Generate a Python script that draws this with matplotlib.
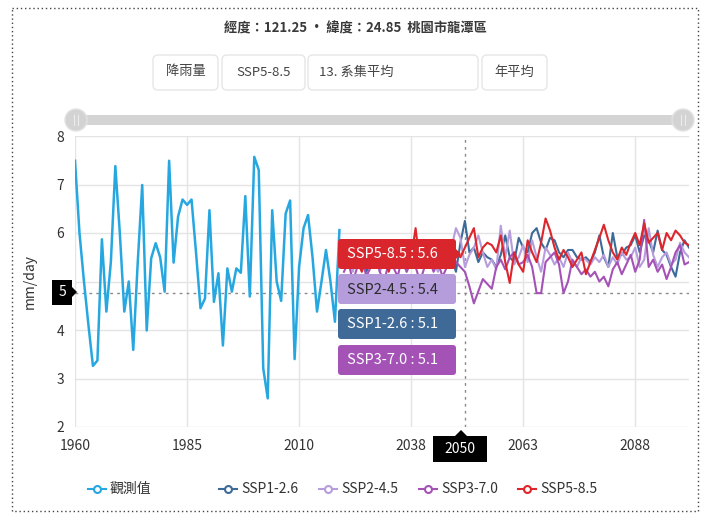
import numpy as np
import matplotlib
matplotlib.use('Agg')
import matplotlib.pyplot as plt
from matplotlib.patches import FancyBboxPatch, Rectangle, Circle, Polygon

plt.rcParams['font.family'] = ['Noto Sans CJK TC', 'DejaVu Sans']

# category axis: observed years, then projection years
obs_years = list(range(1960, 2020))
ssp_years = list(range(2023, 2101))
years = obs_years + ssp_years

obs = [7.49, 6.0, 5.0, 4.1, 3.26, 3.37, 5.87, 4.38, 5.4, 7.38,
       6.0, 4.38, 5.0, 3.59, 5.4, 6.99, 3.99, 5.48, 5.79, 5.5,
       4.79, 7.49, 5.39, 6.34, 6.69, 6.58, 6.69, 5.6, 4.45, 4.65,
       6.47, 4.58, 5.17, 3.68, 5.27, 4.79, 5.27, 5.18, 6.76, 4.69,
       7.57, 7.30, 3.21, 2.59, 6.47, 5.0, 4.6, 6.4, 6.67, 3.4,
       5.3, 6.1, 6.37, 5.5, 4.38, 5.0, 5.65, 5.0, 4.17, 6.06]

ssp126 = [5.4, 5.6, 5.3, 5.5, 5.7, 5.2, 5.4, 5.6, 5.5, 5.3, 5.6, 5.4, 5.5,
          5.7, 5.3, 5.5, 5.4, 5.6, 5.3, 5.5, 5.4, 5.6, 5.5, 5.3, 5.5, 5.2,
          5.8, 6.25, 5.6, 5.7, 5.4, 5.6, 5.5, 5.45, 5.3, 5.55, 5.95, 5.5, 5.4,
          5.9, 5.7, 5.6, 6.0, 6.1, 5.8, 5.65, 5.9, 5.85, 5.6, 5.5, 5.65, 5.65,
          5.5, 5.45, 5.5, 5.4, 5.6, 5.95, 5.5, 5.3, 6.0, 5.5, 5.55, 5.7, 5.75,
          5.95, 5.6, 5.95, 5.85, 5.6, 6.05, 5.65, 5.55, 5.3, 5.1, 5.6, 5.85, 5.7]

ssp245 = [5.3, 5.5, 5.2, 5.6, 5.4, 5.3, 5.5, 5.7, 5.2, 5.4, 5.6, 5.3, 5.5,
          5.4, 5.2, 5.6, 5.4, 5.5, 5.3, 5.6, 5.4, 5.2, 5.5, 5.3, 5.7, 6.1,
          5.9, 5.3, 5.55, 5.7, 5.95, 5.6, 5.3, 5.45, 5.25, 6.15, 5.5, 6.05, 5.35,
          5.5, 5.75, 5.4, 5.85, 5.5, 5.2, 5.7, 5.55, 5.35, 5.5, 5.3, 5.6, 5.4,
          5.3, 5.5, 5.45, 5.35, 5.5, 5.4, 5.55, 5.3, 5.5, 5.35, 5.6, 5.45, 5.5,
          5.7, 5.3, 5.45, 6.1, 5.55, 5.3, 5.5, 5.6, 5.35, 5.45, 5.8, 5.6, 5.5]

ssp370 = [5.2, 5.4, 5.0, 5.3, 5.5, 5.1, 5.3, 5.6, 5.2, 5.0, 5.4, 5.3, 5.1,
          5.5, 5.2, 5.4, 5.3, 5.0, 5.3, 5.5, 5.2, 5.4, 5.1, 5.3, 5.6, 5.4,
          5.3, 5.2, 4.9, 4.55, 4.8, 5.05, 4.95, 4.85, 5.3, 5.45, 5.25, 5.5, 5.6,
          5.35, 5.4, 5.55, 5.3, 4.76, 4.76, 5.4, 5.5, 5.6, 5.35, 4.76, 5.0, 5.45,
          5.3, 5.15, 5.25, 5.1, 5.2, 5.0, 5.1, 4.9, 5.25, 5.4, 5.15, 5.35, 5.55,
          5.2, 5.45, 6.27, 5.3, 5.45, 5.2, 5.35, 5.05, 5.3, 5.6, 5.75, 5.35, 5.4]

ssp585 = [5.5, 5.3, 5.6, 5.4, 5.2, 5.5, 5.7, 5.3, 5.4, 5.6, 5.2, 5.5, 5.3,
          5.6, 5.4, 5.5, 6.1, 5.3, 5.5, 5.7, 5.4, 5.6, 5.3, 5.5, 5.4, 5.6,
          5.5, 5.7, 5.9, 6.1, 5.5, 5.7, 5.8, 5.75, 5.6, 5.95, 5.4, 4.97, 5.6,
          5.35, 5.2, 5.85, 5.6, 5.4, 5.8, 6.3, 6.05, 5.7, 5.45, 5.65, 5.5, 5.3,
          5.45, 5.6, 5.15, 5.4, 5.65, 5.9, 6.17, 5.85, 5.6, 5.45, 5.7, 5.55, 5.8,
          6.0, 5.75, 6.2, 5.8, 5.9, 6.0, 5.65, 6.0, 5.85, 6.05, 5.95, 5.8, 5.75]

names = ['SSP1-2.6', 'SSP2-4.5', 'SSP3-7.0', 'SSP5-8.5']
colors = ['#3d6b99', '#b69ddc', '#a552b6', '#dc262c']
obs_color = '#27a7e0'

tick_idx = [0, 25, 50, 75, 100, 125]
cursor_idx = 87
cursor_y = 4.77
tooltip = [('SSP5-8.5', 5.6, '#d9262c', 'white'),
           ('SSP2-4.5', 5.4, '#b59ddb', '#2b2b2b'),
           ('SSP1-2.6', 5.1, '#3f6a98', 'white'),
           ('SSP3-7.0', 5.1, '#a452b6', 'white')]

W, H = 710, 516
fig = plt.figure(figsize=(W / 100, H / 100), dpi=100)

def rect(l, t, r, b):
    return [l / W, 1 - b / H, (r - l) / W, (b - t) / H]

ax = fig.add_axes(rect(75, 136, 689, 427))
ax.plot(np.arange(len(obs)), obs, color=obs_color, lw=1.8, zorder=3)
x_ssp = np.arange(len(obs), len(years))
for vals, c in zip([ssp126, ssp245, ssp370, ssp585], colors):
    ax.plot(x_ssp, vals, color=c, lw=1.5, zorder=3)
ax.set_xlim(0, len(years) - 1)
ax.set_ylim(2, 8)
ax.set_xticks(tick_idx, [str(years[i]) for i in tick_idx])
# the "5" tick sits under the axis-pointer label
ax.set_yticks(range(2, 9), ['2', '3', '4', '', '6', '7', '8'])
ax.grid(color='#e4e4e4', lw=1)
for s in ax.spines.values():
    s.set_visible(False)
ax.tick_params(length=0, labelsize=10, colors='#333333')
ax.tick_params(axis='x', pad=9)
ax.tick_params(axis='y', pad=8)
ax.set_ylabel('mm/day', fontsize=10, color='#333333', labelpad=14)
ax.axvline(cursor_idx, color='#8a8a8a', ls=(0, (2, 3)), lw=1, zorder=2)
ax.axhline(cursor_y, color='#8a8a8a', ls=(0, (2, 3)), lw=1, zorder=2)

# overlay in pixel coordinates
ov = fig.add_axes([0, 0, 1, 1])
ov.set_xlim(0, W)
ov.set_ylim(H, 0)
ov.axis('off')
ov.patch.set_alpha(0)

ov.add_patch(Rectangle((12, 8), 686, 503, fill=False, ec='#444444', lw=1, ls=(0, (1, 2))))

ov.text(355, 28, '經度：121.25 · 緯度：24.85  桃園市龍潭區', ha='center', va='center',
        fontsize=9.5, color='#3a3a3a', weight='bold')

buttons = [('降雨量', 153, 218, 'center'), ('SSP5-8.5', 222, 305, 'center'),
           ('13. 系集平均', 308, 478, 'left'), ('年平均', 482, 547, 'center')]
for label, l, r, ha in buttons:
    ov.add_patch(FancyBboxPatch((l, 55), r - l, 35, boxstyle='round,pad=0,rounding_size=5',
                                fc='white', ec='#e6e6e6', lw=1))
    tx = (l + r) / 2 if ha == 'center' else l + 11
    ov.text(tx, 72, label, ha=ha, va='center', fontsize=9.5, color='#444444')

# range slider
ov.add_patch(FancyBboxPatch((78, 115), 604, 10, boxstyle='round,pad=0,rounding_size=5',
                            fc='#d4d4d4', ec='none'))
for hx in (76, 683):
    ov.add_patch(Circle((hx, 120), 11, fc='#d3d3d3', ec='#e2e2e2', lw=1))
    ov.plot([hx - 2, hx - 2], [115, 125], color='#ececec', lw=0.8)
    ov.plot([hx + 2, hx + 2], [115, 125], color='#ececec', lw=0.8)

# axis pointer labels
ov.add_patch(Polygon([(52, 280), (72, 280), (72, 287), (77, 292), (72, 297), (72, 305), (52, 305)],
                     closed=True, fc='black', ec='none'))
ov.text(62, 292.5, '5', ha='center', va='center', fontsize=10, color='white')
ov.add_patch(Polygon([(433, 436), (455, 436), (461, 430), (467, 436), (487, 436), (487, 462), (433, 462)],
                     closed=True, fc='black', ec='none'))
ov.text(460, 449, '2050', ha='center', va='center', fontsize=10, color='white')

# tooltip boxes
tops = [239, 274, 309, 345]
for (name, val, fc, tc), t in zip(tooltip, tops):
    ov.add_patch(FancyBboxPatch((338, t), 118, 30, boxstyle='round,pad=0,rounding_size=3',
                                fc=fc, ec='none', zorder=5))
    ov.text(347, t + 15.5, '%s : %.1f' % (name, val), ha='left', va='center',
            fontsize=10.5, color=tc, zorder=6)
ov.add_patch(Polygon([(456, 249), (461, 254), (456, 259)], closed=True, fc=tooltip[0][2], ec='none', zorder=5))

# legend
legend = [('觀測值', obs_color, 97)] + list(zip(names, colors, [228, 328, 428, 527]))
for label, c, mx in legend:
    ov.plot([mx - 9, mx + 9], [489, 489], color=c, lw=1.5)
    ov.plot(mx, 489, 'o', mfc='white', mec=c, ms=5, mew=1.5)
    ov.text(mx + 13, 489, label, ha='left', va='center', fontsize=10, color='#333333')

fig.savefig('out.png', dpi=100)
